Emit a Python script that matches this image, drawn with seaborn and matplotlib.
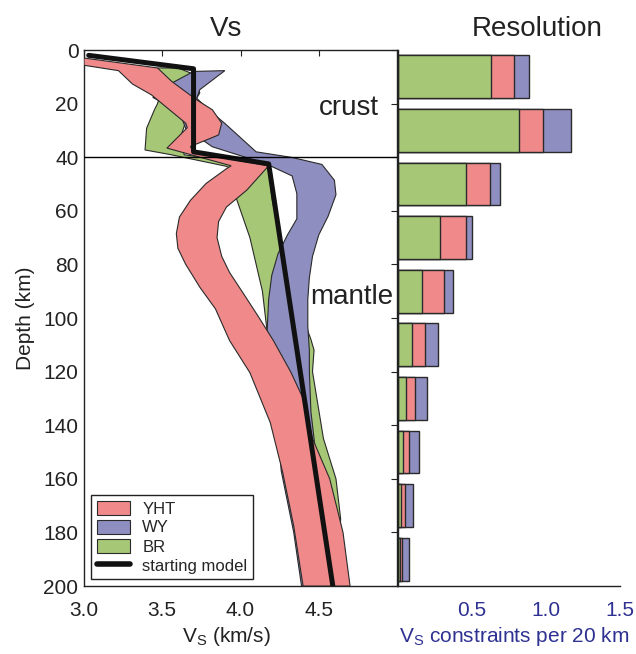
import numpy as np
import matplotlib
matplotlib.use("Agg")
import matplotlib.pyplot as plt
import seaborn as sns
import pandas as pd
from matplotlib.patches import Patch
from matplotlib.lines import Line2D

# ---------------- data ----------------
# YHT band outline (left = min Vs, right = max Vs), top to bottom
yht_left_v = [3.00, 3.00, 3.22, 3.31, 3.43, 3.65, 3.66, 3.53, 3.94, 3.91, 3.78, 3.68, 3.61, 3.59, 3.60, 3.65, 3.74, 3.84, 3.93, 4.06, 4.19, 4.27, 4.34, 4.40]
yht_left_d = [3.0, 5.7, 7.7, 12.7, 16.7, 27.3, 29.0, 36.6, 43.2, 44.3, 49.8, 56.1, 62.3, 68.5, 74.0, 80.0, 88.5, 96.6, 108.4, 120.4, 139.0, 157.7, 177.6, 200.0]
yht_right_v = [3.00, 3.47, 3.56, 3.72, 3.82, 3.88, 3.86, 3.68, 3.70, 4.18, 4.04, 3.91, 3.86, 3.85, 3.88, 3.93, 4.02, 4.12, 4.21, 4.32, 4.40, 4.46, 4.57, 4.655, 4.70]
yht_right_d = [3.0, 6.7, 11.7, 18.6, 22.3, 27.3, 31.7, 36.0, 38.3, 43.2, 52.3, 58.6, 64.0, 70.0, 77.0, 83.0, 91.0, 100.0, 108.4, 120.0, 130.0, 145.0, 160.0, 180.0, 200.0]

# WY band outline
wy_left_v = [3.70, 3.54, 3.44, 3.61, 3.65, 3.82, 4.16, 4.33, 4.36, 4.36, 4.30, 4.24, 4.20, 4.18, 4.17, 4.21, 4.23, 4.24, 4.26, 4.34, 4.39]
wy_left_d = [8.0, 13.0, 17.7, 23.0, 29.3, 36.1, 42.4, 47.0, 53.6, 63.0, 69.0, 76.0, 84.0, 93.0, 105.0, 112.0, 120.0, 140.0, 157.0, 180.0, 200.0]
wy_right_v = [3.90, 3.74, 3.72, 3.80, 3.90, 4.10, 4.33, 4.52, 4.60, 4.61, 4.56, 4.50, 4.46, 4.44, 4.43, 4.43, 4.44, 4.44, 4.45, 4.50, 4.56, 4.62]
wy_right_d = [7.7, 14.8, 18.0, 22.5, 27.4, 38.0, 40.1, 42.7, 48.6, 54.0, 62.0, 69.0, 77.0, 85.0, 93.0, 103.0, 112.0, 120.0, 135.0, 160.0, 180.0, 200.0]

# BR band outline
br_left_v = [3.47, 3.50, 3.50, 3.47, 3.45, 3.40, 3.39, 3.55, 3.91, 3.93, 3.97, 4.06, 4.14, 4.17, 4.28, 4.40, 4.48, 4.52]
br_left_d = [6.7, 10.0, 14.0, 20.0, 22.3, 29.2, 37.3, 39.0, 43.4, 44.0, 54.8, 70.0, 90.0, 105.0, 130.0, 150.0, 170.0, 200.0]
br_right_v = [3.60, 3.70, 3.74, 3.70, 3.66, 3.62, 3.64, 4.18, 4.20, 4.25, 4.32, 4.40, 4.45, 4.47, 4.46, 4.53, 4.61, 4.64, 4.63, 4.62]
br_right_d = [6.7, 9.0, 16.0, 20.0, 25.0, 32.0, 39.1, 43.4, 55.0, 70.0, 85.0, 100.0, 108.0, 112.0, 120.0, 145.0, 160.0, 175.0, 185.0, 200.0]

# starting model
start_v = [3.03, 3.70, 3.70, 4.18, 4.59]
start_d = [2.0, 7.0, 38.0, 42.5, 200.0]

moho_depth = 40

# resolution (constraints per 20 km), stacked BR, YHT, WY
res_depth = [10, 30, 50, 70, 90, 110, 130, 150, 170, 190]
res_br = [0.628, 0.820, 0.459, 0.284, 0.164, 0.092, 0.054, 0.034, 0.022, 0.014]
res_yht = [0.158, 0.160, 0.163, 0.178, 0.147, 0.093, 0.061, 0.040, 0.028, 0.013]
res_wy = [0.102, 0.187, 0.068, 0.040, 0.063, 0.085, 0.079, 0.070, 0.054, 0.049]

labels = ["YHT", "WY", "BR", "starting model"]
depth_ticks = list(range(0, 201, 20))
vs_ticks = [3.0, 3.5, 4.0, 4.5]
res_ticks = [0.5, 1.0, 1.5]

# ---------------- style ----------------
sns.set_theme(style="white")
plt.rcParams["font.family"] = ["Liberation Sans", "DejaVu Sans"]
plt.rcParams["mathtext.fontset"] = "custom"
plt.rcParams["mathtext.rm"] = "Liberation Sans"
plt.rcParams["mathtext.it"] = "Liberation Sans:italic"

c_red = "#F0898A"
c_blue = "#8E8EC0"
c_green = "#A6C776"
c_edge = "#2a2a2a"
navy = "#2E3192"

fig = plt.figure(figsize=(6.36, 6.54), dpi=100)
W, H = 636, 654
ax1 = fig.add_axes([84 / W, 1 - 586 / H, 313 / W, 536 / H])
ax2 = fig.add_axes([398 / W, 1 - 586 / H, 222 / W, 536 / H])

def band(ax, lv, ld, rv, rd, color, z):
    xs = list(lv) + list(rv)[::-1]
    ys = list(ld) + list(rd)[::-1]
    ax.fill(xs, ys, facecolor=color, edgecolor=c_edge, linewidth=0.8, zorder=z)

band(ax1, br_left_v, br_left_d, br_right_v, br_right_d, c_green, 1)
band(ax1, wy_left_v, wy_left_d, wy_right_v, wy_right_d, c_blue, 2)
band(ax1, yht_left_v, yht_left_d, yht_right_v, yht_right_d, c_red, 3)

sns.lineplot(x=start_v, y=start_d, sort=False, estimator=None, color="#111111",
             linewidth=3.6, ax=ax1, zorder=5)
ax1.axhline(moho_depth, color="black", linewidth=1.0, zorder=6)

ax1.set_xlim(3.0, 5.0)
ax1.set_ylim(200, 0)
ax1.set_xticks(vs_ticks)
ax1.set_xticklabels([f"{t:.1f}" for t in vs_ticks])
ax1.set_yticks(depth_ticks)
ax1.tick_params(axis="both", direction="in", length=4, width=0.8, colors="#222222",
                labelsize=15, top=True, right=True, labelcolor="#222222")
ax1.tick_params(axis="x", pad=11)
ax1.tick_params(axis="y", pad=4)
for s in ax1.spines.values():
    s.set_color("#222222")
    s.set_linewidth(1.0)
ax1.set_ylabel("Depth (km)", fontsize=15, labelpad=6, color="#222222")
ax1.set_xlabel("V$_{\\rm S}$ (km/s)", fontsize=15, color="#222222", labelpad=4)
ax1.xaxis.set_label_coords((226 - 84) / 313, -0.072)
ax1.set_title("Vs", fontsize=20, pad=10, x=(226 - 84) / 313, color="#222222")

ax1.text(4.69, 24.3, "crust", fontsize=20, ha="center", va="baseline", color="#222222", zorder=7)
ax1.text(4.71, 94.6, "mantle", fontsize=20, ha="center", va="baseline", color="#222222", zorder=7)

handles = [Patch(facecolor=c_red, edgecolor=c_edge, linewidth=0.8),
           Patch(facecolor=c_blue, edgecolor=c_edge, linewidth=0.8),
           Patch(facecolor=c_green, edgecolor=c_edge, linewidth=0.8),
           Line2D([0], [0], color="#111111", linewidth=4)]
leg = ax1.legend(handles, labels, loc="lower left", fontsize=12, frameon=True, fancybox=False,
                 edgecolor="#222222", framealpha=1, borderaxespad=0.4, handlelength=2.0,
                 handleheight=0.9, labelspacing=0.2, borderpad=0.35, handletextpad=0.75)
leg.get_frame().set_linewidth(1.0)
leg.set_zorder(10)

# ---------------- resolution panel ----------------
tot_wy = [a + b + c for a, b, c in zip(res_br, res_yht, res_wy)]
tot_yht = [a + b for a, b in zip(res_br, res_yht)]
df = pd.DataFrame({"depth": res_depth, "wy": tot_wy, "yht": tot_yht, "br": res_br})
for col, colr in [("wy", c_blue), ("yht", c_red), ("br", c_green)]:
    sns.barplot(data=df, x=col, y="depth", orient="y", native_scale=True, color=colr,
                edgecolor=c_edge, linewidth=1.0, saturation=1, errorbar=None, ax=ax2)

ax2.set_xlim(0, 1.5)
ax2.set_ylim(200, 0)
ax2.set_xticks(res_ticks)
ax2.set_xticklabels([f"{t:.1f}" for t in res_ticks])
ax2.set_yticks([])
ax2.tick_params(axis="x", direction="in", length=4, width=0.8, colors="#222222",
                labelsize=15, labelcolor=navy, pad=11)
ax2.spines["top"].set_visible(False)
ax2.spines["right"].set_visible(False)
for s in ["left", "bottom"]:
    ax2.spines[s].set_color("#222222")
    ax2.spines[s].set_linewidth(1.0)
ax2.set_ylabel("")
ax2.set_xlabel("V$_{\\rm S}$ constraints per 20 km", fontsize=15, color=navy)
ax2.xaxis.set_label_coords((514 - 398) / 222, -0.072)
ax2.set_title("Resolution", fontsize=20, pad=10, x=(537 - 398) / 222, color="#222222")

fig.savefig("out.png", dpi=100)
